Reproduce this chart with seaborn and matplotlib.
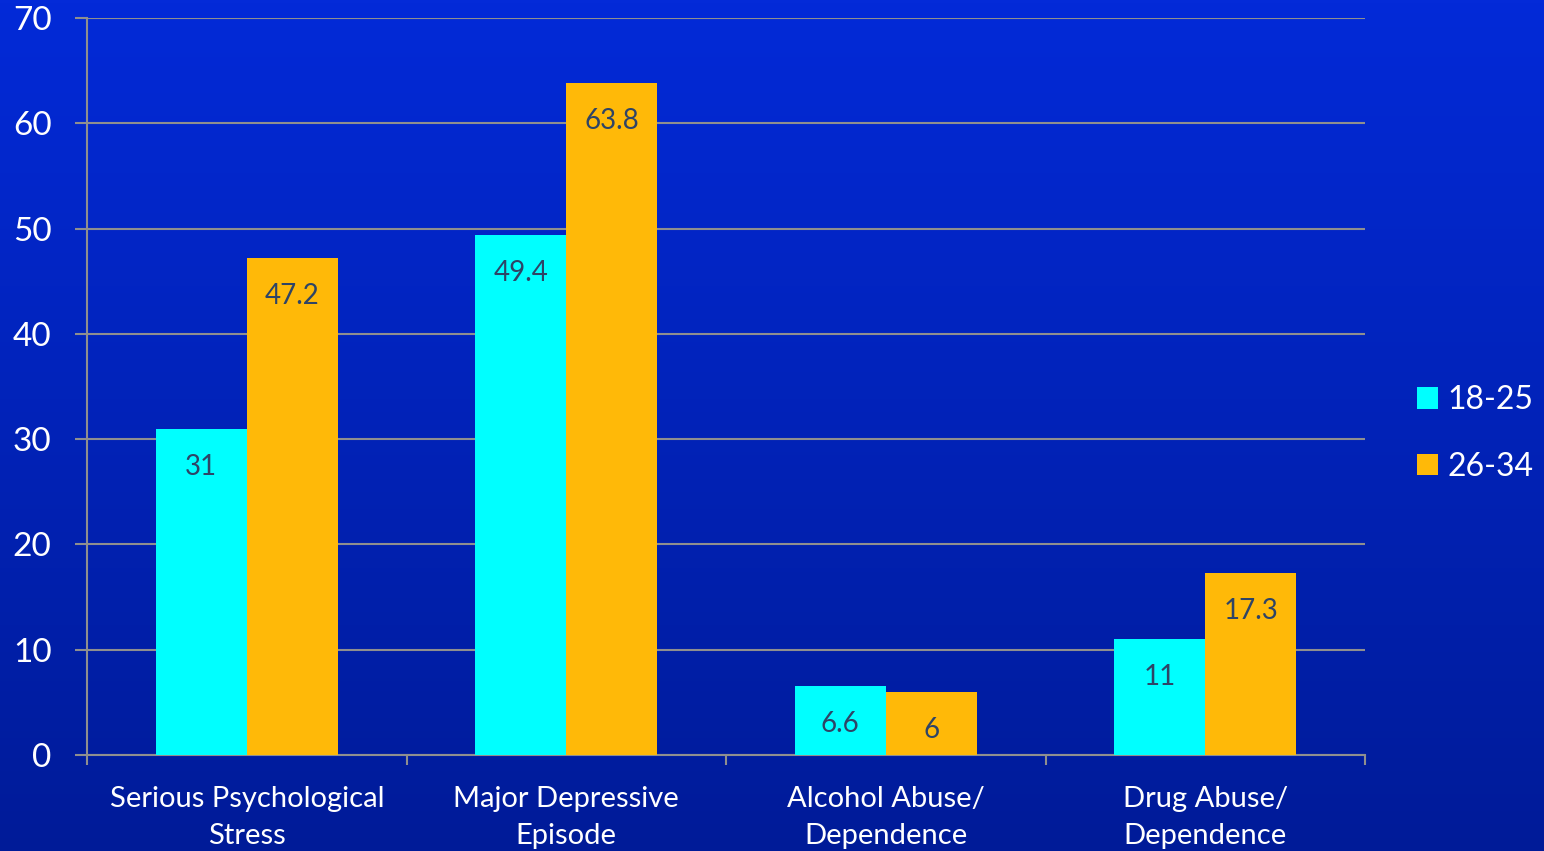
import numpy as np
import pandas as pd
import matplotlib
matplotlib.use("Agg")
import matplotlib.pyplot as plt
import seaborn as sns

categories = ["Serious Psychological\nStress", "Major Depressive\nEpisode",
              "Alcohol Abuse/\nDependence", "Drug Abuse/\nDependence"]
groups = ["18-25", "26-34"]
values_18_25 = [31, 49.4, 6.6, 11]
values_26_34 = [47.2, 63.8, 6, 17.3]
y_ticks = [0, 10, 20, 30, 40, 50, 60, 70]

bar_colors = ["#00FFFF", "#FFB908"]
grid_color = "#8F8F8F"
text_color = "white"
label_color = "#2E4466"

df = pd.DataFrame({
    "category": categories * 2,
    "group": [groups[0]] * 4 + [groups[1]] * 4,
    "value": values_18_25 + values_26_34,
})

sns.set_theme(style="white")
plt.rcParams["font.family"] = ["Lato", "DejaVu Sans"]

fig = plt.figure(figsize=(15.44, 8.51), dpi=100)

# vertical blue gradient behind everything
bg = fig.add_axes([0, 0, 1, 1], zorder=-10)
grad = np.linspace(0, 1, 256).reshape(-1, 1)
top = np.array([0x03, 0x2A, 0xD8]) / 255
bot = np.array([0x00, 0x1B, 0x98]) / 255
img = top[None, None, :] * (1 - grad[:, :, None]) + bot[None, None, :] * grad[:, :, None]
bg.imshow(img, aspect="auto", extent=[0, 1, 0, 1], origin="upper")
bg.set_axis_off()

ax = fig.add_axes([87 / 1544, 1 - 755 / 851, (1365 - 87) / 1544, (755 - 18) / 851])
ax.patch.set_alpha(0)

sns.barplot(data=df, x="category", y="value", hue="group", order=categories,
            hue_order=groups, palette=bar_colors, width=0.57, saturation=1,
            linewidth=0, ax=ax, zorder=3, legend=True)

ax.set_xlim(-0.5, len(categories) - 0.5)
ax.set_ylim(0, 70)
ax.set_yticks(y_ticks)
ax.set_yticklabels([str(t) for t in y_ticks])
ax.set_xlabel("")
ax.set_ylabel("")

ax.yaxis.grid(True, color=grid_color, linewidth=1.5, zorder=0)
ax.set_axisbelow(True)
for s in ["top", "right"]:
    ax.spines[s].set_visible(False)
for s in ["left", "bottom"]:
    ax.spines[s].set_color(grid_color)
    ax.spines[s].set_linewidth(1.5)

ax.tick_params(axis="y", colors=grid_color, length=8.5, width=1.5, pad=17,
               labelsize=24, labelcolor=text_color, left=True)
ax.tick_params(axis="x", which="major", length=0, pad=22, labelsize=21,
               labelcolor=text_color)
ax.set_xticks(np.arange(-0.5, len(categories)), minor=True)
ax.tick_params(axis="x", which="minor", length=7.5, width=1.5, colors=grid_color,
               bottom=True)
for lbl in ax.get_xticklabels():
    lbl.set_linespacing(1.55)

# value labels inside the top of each bar
for container, vals in zip(ax.containers, [values_18_25, values_26_34]):
    for patch, v in zip(container.patches, vals):
        ax.annotate(f"{v:g}", (patch.get_x() + patch.get_width() / 2, v),
                    xytext=(0, -27.5), textcoords="offset points",
                    ha="center", va="center", fontsize=20, color=label_color,
                    zorder=5)

leg = ax.legend(loc="center left", bbox_to_anchor=(1.0407, 0.436), frameon=False,
                fontsize=23, labelcolor=text_color, handlelength=0.65,
                handleheight=0.65, handletextpad=0.3, labelspacing=1.15,
                borderaxespad=0, borderpad=0)
for h in leg.legend_handles:
    h.set_linewidth(0)

fig.savefig("out.png", dpi=100)
